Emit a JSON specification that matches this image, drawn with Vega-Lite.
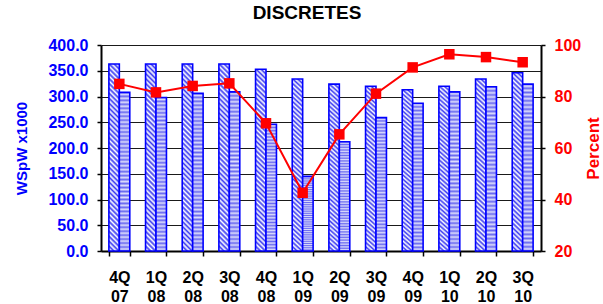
{
  "$schema": "https://vega.github.io/schema/vega-lite/v6.json",
  "width": 440,
  "height": 206,
  "autosize": {"type": "none"},
  "padding": {"left": 101, "top": 45, "right": 62, "bottom": 53},
  "background": "white",
  "config": {
    "view": {"stroke": null},
    "font": "Liberation Sans",
    "axis": {"labelFont": "Liberation Sans", "titleFont": "Liberation Sans", "labelFontWeight": "bold", "titleFontWeight": "bold"}
  },
  "title": {
    "text": "DISCRETES",
    "fontSize": 19,
    "fontWeight": "bold",
    "color": "black",
    "font": "Liberation Sans",
    "anchor": "middle",
    "dx": -14,
    "offset": 14
  },
  "datasets": {
    "bars": [
      {"q": "4Q 07", "series": "A", "value": 363},
      {"q": "4Q 07", "series": "B", "value": 308},
      {"q": "1Q 08", "series": "A", "value": 363},
      {"q": "1Q 08", "series": "B", "value": 298},
      {"q": "2Q 08", "series": "A", "value": 363},
      {"q": "2Q 08", "series": "B", "value": 306},
      {"q": "3Q 08", "series": "A", "value": 363},
      {"q": "3Q 08", "series": "B", "value": 309},
      {"q": "4Q 08", "series": "A", "value": 353},
      {"q": "4Q 08", "series": "B", "value": 246},
      {"q": "1Q 09", "series": "A", "value": 334},
      {"q": "1Q 09", "series": "B", "value": 145},
      {"q": "2Q 09", "series": "A", "value": 324},
      {"q": "2Q 09", "series": "B", "value": 212},
      {"q": "3Q 09", "series": "A", "value": 320},
      {"q": "3Q 09", "series": "B", "value": 259},
      {"q": "4Q 09", "series": "A", "value": 313},
      {"q": "4Q 09", "series": "B", "value": 287},
      {"q": "1Q 10", "series": "A", "value": 320},
      {"q": "1Q 10", "series": "B", "value": 309},
      {"q": "2Q 10", "series": "A", "value": 334},
      {"q": "2Q 10", "series": "B", "value": 319},
      {"q": "3Q 10", "series": "A", "value": 346},
      {"q": "3Q 10", "series": "B", "value": 324}
    ],
    "pct": [
      {"q": "4Q 07", "percent": 84.9},
      {"q": "1Q 08", "percent": 81.6},
      {"q": "2Q 08", "percent": 84.1},
      {"q": "3Q 08", "percent": 85.1},
      {"q": "4Q 08", "percent": 69.6},
      {"q": "1Q 09", "percent": 42.6},
      {"q": "2Q 09", "percent": 65.3},
      {"q": "3Q 09", "percent": 81.1},
      {"q": "4Q 09", "percent": 91.3},
      {"q": "1Q 10", "percent": 96.4},
      {"q": "2Q 10", "percent": 95.3},
      {"q": "3Q 10", "percent": 93.3}
    ]
  },
  "encoding": {
    "x": {
      "field": "q",
      "type": "nominal",
      "sort": null,
      "scale": {
        "domain": ["4Q 07","1Q 08","2Q 08","3Q 08","4Q 08","1Q 09","2Q 09","3Q 09","4Q 09","1Q 10","2Q 10","3Q 10"],
        "paddingInner": 0.43,
        "paddingOuter": 0.215
      },
      "axis": {
        "title": null,
        "labelAngle": 0,
        "labelExpr": "split(datum.label, ' ')",
        "labelFontSize": 16,
        "labelColor": "black",
        "labelLineHeight": 19,
        "labelPadding": 13,
        "tickBand": "extent",
        "tickSize": 5,
        "tickColor": "black",
        "tickWidth": 1.5,
        "domainColor": "black",
        "domainWidth": 2,
        "grid": false
      }
    }
  },
  "layer": [
    {
      "data": {"name": "bars"},
      "mark": {"type": "bar", "stroke": "#0000ff", "strokeWidth": 1.6},
      "encoding": {
        "y": {
          "field": "value",
          "type": "quantitative",
          "scale": {"domain": [0, 400], "nice": false},
          "axis": {
            "orient": "left",
            "title": "WSpW x1000",
            "titleColor": "#0000ff",
            "titleFontSize": 15,
            "titlePadding": 18,
            "values": [0, 50, 100, 150, 200, 250, 300, 350, 400],
            "format": ".1f",
            "labelColor": "#0000ff",
            "labelFontSize": 16,
            "labelPadding": 9,
            "tickSize": 4,
            "tickColor": "black",
            "tickWidth": 1.5,
            "domainColor": "black",
            "domainWidth": 2,
            "grid": true,
            "gridColor": "#1a1a1a",
            "gridWidth": 1
          }
        },
        "xOffset": {"field": "series", "type": "nominal", "scale": {"domain": ["A", "B"], "paddingInner": 0, "paddingOuter": 0}},
        "fill": {
          "condition": {
            "test": "datum.series === 'A'",
            "value": {
              "gradient": "linear", "x1": 0, "y1": 1, "x2": 0.0585, "y2": -0.052,
              "stops": [
                {"offset": 0, "color": "#3a3af2"}, {"offset": 0.0125, "color": "#ffffff"},
                {"offset": 0.025, "color": "#3a3af2"}, {"offset": 0.0375, "color": "#ffffff"},
                {"offset": 0.05, "color": "#3a3af2"}, {"offset": 0.0625, "color": "#ffffff"},
                {"offset": 0.075, "color": "#3a3af2"}, {"offset": 0.0875, "color": "#ffffff"},
                {"offset": 0.1, "color": "#3a3af2"}, {"offset": 0.1125, "color": "#ffffff"},
                {"offset": 0.125, "color": "#3a3af2"}, {"offset": 0.1375, "color": "#ffffff"},
                {"offset": 0.15, "color": "#3a3af2"}, {"offset": 0.1625, "color": "#ffffff"},
                {"offset": 0.175, "color": "#3a3af2"}, {"offset": 0.1875, "color": "#ffffff"},
                {"offset": 0.2, "color": "#3a3af2"}, {"offset": 0.2125, "color": "#ffffff"},
                {"offset": 0.225, "color": "#3a3af2"}, {"offset": 0.2375, "color": "#ffffff"},
                {"offset": 0.25, "color": "#3a3af2"}, {"offset": 0.2625, "color": "#ffffff"},
                {"offset": 0.275, "color": "#3a3af2"}, {"offset": 0.2875, "color": "#ffffff"},
                {"offset": 0.3, "color": "#3a3af2"}, {"offset": 0.3125, "color": "#ffffff"},
                {"offset": 0.325, "color": "#3a3af2"}, {"offset": 0.3375, "color": "#ffffff"},
                {"offset": 0.35, "color": "#3a3af2"}, {"offset": 0.3625, "color": "#ffffff"},
                {"offset": 0.375, "color": "#3a3af2"}, {"offset": 0.3875, "color": "#ffffff"},
                {"offset": 0.4, "color": "#3a3af2"}, {"offset": 0.4125, "color": "#ffffff"},
                {"offset": 0.425, "color": "#3a3af2"}, {"offset": 0.4375, "color": "#ffffff"},
                {"offset": 0.45, "color": "#3a3af2"}, {"offset": 0.4625, "color": "#ffffff"},
                {"offset": 0.475, "color": "#3a3af2"}, {"offset": 0.4875, "color": "#ffffff"},
                {"offset": 0.5, "color": "#3a3af2"}, {"offset": 0.5125, "color": "#ffffff"},
                {"offset": 0.525, "color": "#3a3af2"}, {"offset": 0.5375, "color": "#ffffff"},
                {"offset": 0.55, "color": "#3a3af2"}, {"offset": 0.5625, "color": "#ffffff"},
                {"offset": 0.575, "color": "#3a3af2"}, {"offset": 0.5875, "color": "#ffffff"},
                {"offset": 0.6, "color": "#3a3af2"}, {"offset": 0.6125, "color": "#ffffff"},
                {"offset": 0.625, "color": "#3a3af2"}, {"offset": 0.6375, "color": "#ffffff"},
                {"offset": 0.65, "color": "#3a3af2"}, {"offset": 0.6625, "color": "#ffffff"},
                {"offset": 0.675, "color": "#3a3af2"}, {"offset": 0.6875, "color": "#ffffff"},
                {"offset": 0.7, "color": "#3a3af2"}, {"offset": 0.7125, "color": "#ffffff"},
                {"offset": 0.725, "color": "#3a3af2"}, {"offset": 0.7375, "color": "#ffffff"},
                {"offset": 0.75, "color": "#3a3af2"}, {"offset": 0.7625, "color": "#ffffff"},
                {"offset": 0.775, "color": "#3a3af2"}, {"offset": 0.7875, "color": "#ffffff"},
                {"offset": 0.8, "color": "#3a3af2"}, {"offset": 0.8125, "color": "#ffffff"},
                {"offset": 0.825, "color": "#3a3af2"}, {"offset": 0.8375, "color": "#ffffff"},
                {"offset": 0.85, "color": "#3a3af2"}, {"offset": 0.8625, "color": "#ffffff"},
                {"offset": 0.875, "color": "#3a3af2"}, {"offset": 0.8875, "color": "#ffffff"},
                {"offset": 0.9, "color": "#3a3af2"}, {"offset": 0.9125, "color": "#ffffff"},
                {"offset": 0.925, "color": "#3a3af2"}, {"offset": 0.9375, "color": "#ffffff"},
                {"offset": 0.95, "color": "#3a3af2"}, {"offset": 0.9625, "color": "#ffffff"},
                {"offset": 0.975, "color": "#3a3af2"}, {"offset": 0.9875, "color": "#ffffff"},
                {"offset": 1, "color": "#3a3af2"}
              ]
            }
          },
          "value": {
            "gradient": "linear", "x1": 0, "y1": 0, "x2": 0, "y2": 1,
            "stops": [
              {"offset": 0, "color": "#6a6af0"}, {"offset": 0.0125, "color": "#dcdcfc"},
              {"offset": 0.025, "color": "#6a6af0"}, {"offset": 0.0375, "color": "#dcdcfc"},
              {"offset": 0.05, "color": "#6a6af0"}, {"offset": 0.0625, "color": "#dcdcfc"},
              {"offset": 0.075, "color": "#6a6af0"}, {"offset": 0.0875, "color": "#dcdcfc"},
              {"offset": 0.1, "color": "#6a6af0"}, {"offset": 0.1125, "color": "#dcdcfc"},
              {"offset": 0.125, "color": "#6a6af0"}, {"offset": 0.1375, "color": "#dcdcfc"},
              {"offset": 0.15, "color": "#6a6af0"}, {"offset": 0.1625, "color": "#dcdcfc"},
              {"offset": 0.175, "color": "#6a6af0"}, {"offset": 0.1875, "color": "#dcdcfc"},
              {"offset": 0.2, "color": "#6a6af0"}, {"offset": 0.2125, "color": "#dcdcfc"},
              {"offset": 0.225, "color": "#6a6af0"}, {"offset": 0.2375, "color": "#dcdcfc"},
              {"offset": 0.25, "color": "#6a6af0"}, {"offset": 0.2625, "color": "#dcdcfc"},
              {"offset": 0.275, "color": "#6a6af0"}, {"offset": 0.2875, "color": "#dcdcfc"},
              {"offset": 0.3, "color": "#6a6af0"}, {"offset": 0.3125, "color": "#dcdcfc"},
              {"offset": 0.325, "color": "#6a6af0"}, {"offset": 0.3375, "color": "#dcdcfc"},
              {"offset": 0.35, "color": "#6a6af0"}, {"offset": 0.3625, "color": "#dcdcfc"},
              {"offset": 0.375, "color": "#6a6af0"}, {"offset": 0.3875, "color": "#dcdcfc"},
              {"offset": 0.4, "color": "#6a6af0"}, {"offset": 0.4125, "color": "#dcdcfc"},
              {"offset": 0.425, "color": "#6a6af0"}, {"offset": 0.4375, "color": "#dcdcfc"},
              {"offset": 0.45, "color": "#6a6af0"}, {"offset": 0.4625, "color": "#dcdcfc"},
              {"offset": 0.475, "color": "#6a6af0"}, {"offset": 0.4875, "color": "#dcdcfc"},
              {"offset": 0.5, "color": "#6a6af0"}, {"offset": 0.5125, "color": "#dcdcfc"},
              {"offset": 0.525, "color": "#6a6af0"}, {"offset": 0.5375, "color": "#dcdcfc"},
              {"offset": 0.55, "color": "#6a6af0"}, {"offset": 0.5625, "color": "#dcdcfc"},
              {"offset": 0.575, "color": "#6a6af0"}, {"offset": 0.5875, "color": "#dcdcfc"},
              {"offset": 0.6, "color": "#6a6af0"}, {"offset": 0.6125, "color": "#dcdcfc"},
              {"offset": 0.625, "color": "#6a6af0"}, {"offset": 0.6375, "color": "#dcdcfc"},
              {"offset": 0.65, "color": "#6a6af0"}, {"offset": 0.6625, "color": "#dcdcfc"},
              {"offset": 0.675, "color": "#6a6af0"}, {"offset": 0.6875, "color": "#dcdcfc"},
              {"offset": 0.7, "color": "#6a6af0"}, {"offset": 0.7125, "color": "#dcdcfc"},
              {"offset": 0.725, "color": "#6a6af0"}, {"offset": 0.7375, "color": "#dcdcfc"},
              {"offset": 0.75, "color": "#6a6af0"}, {"offset": 0.7625, "color": "#dcdcfc"},
              {"offset": 0.775, "color": "#6a6af0"}, {"offset": 0.7875, "color": "#dcdcfc"},
              {"offset": 0.8, "color": "#6a6af0"}, {"offset": 0.8125, "color": "#dcdcfc"},
              {"offset": 0.825, "color": "#6a6af0"}, {"offset": 0.8375, "color": "#dcdcfc"},
              {"offset": 0.85, "color": "#6a6af0"}, {"offset": 0.8625, "color": "#dcdcfc"},
              {"offset": 0.875, "color": "#6a6af0"}, {"offset": 0.8875, "color": "#dcdcfc"},
              {"offset": 0.9, "color": "#6a6af0"}, {"offset": 0.9125, "color": "#dcdcfc"},
              {"offset": 0.925, "color": "#6a6af0"}, {"offset": 0.9375, "color": "#dcdcfc"},
              {"offset": 0.95, "color": "#6a6af0"}, {"offset": 0.9625, "color": "#dcdcfc"},
              {"offset": 0.975, "color": "#6a6af0"}, {"offset": 0.9875, "color": "#dcdcfc"},
              {"offset": 1, "color": "#6a6af0"}
            ]
          }
        }
      }
    },
    {
      "data": {"name": "pct"},
      "mark": {"type": "line", "color": "#ff0000", "strokeWidth": 2},
      "encoding": {
        "y": {
          "field": "percent",
          "type": "quantitative",
          "scale": {"domain": [20, 100], "nice": false, "zero": false},
          "axis": {
            "orient": "right",
            "title": "Percent",
            "titleColor": "#ff0000",
            "titleFontSize": 17,
            "titleAngle": -90,
            "titlePadding": 22,
            "values": [20, 40, 60, 80, 100],
            "labelColor": "#ff0000",
            "labelFontSize": 16,
            "labelPadding": 9,
            "tickSize": 4,
            "tickColor": "black",
            "tickWidth": 1.5,
            "domainColor": "black",
            "domainWidth": 2,
            "grid": false
          }
        }
      }
    },
    {
      "data": {"name": "pct"},
      "mark": {"type": "point", "shape": "square", "filled": true, "color": "#ff0000", "size": 110, "opacity": 1},
      "encoding": {
        "y": {"field": "percent", "type": "quantitative", "scale": {"domain": [20, 100], "nice": false, "zero": false}, "axis": null}
      }
    }
  ],
  "resolve": {"scale": {"y": "independent"}}
}
